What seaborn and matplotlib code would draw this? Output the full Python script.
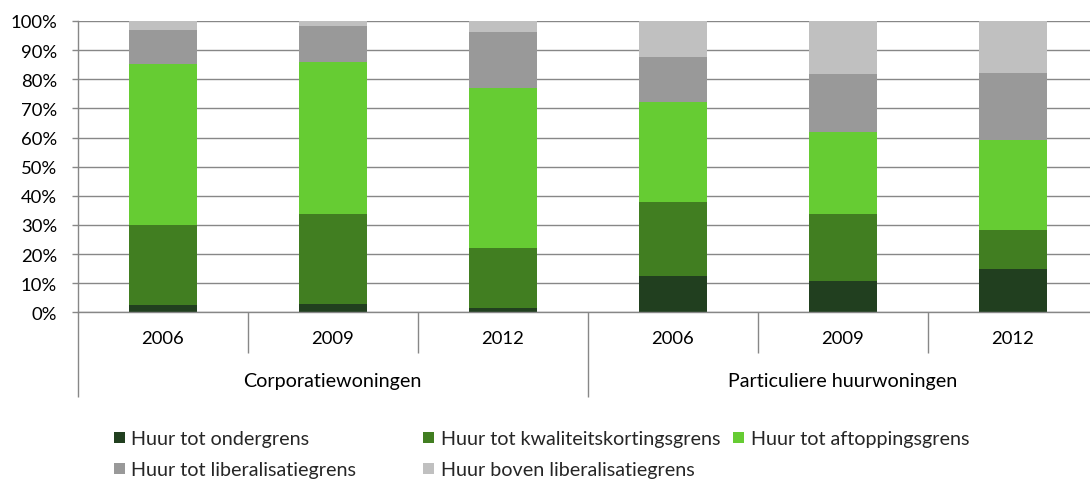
import numpy as np
import pandas as pd
import matplotlib
matplotlib.use("Agg")
import matplotlib.pyplot as plt
from matplotlib.patches import Patch
from matplotlib.ticker import PercentFormatter
import seaborn as sns

# ---------------- data ----------------
groups = ["Corporatiewoningen"] * 3 + ["Particuliere huurwoningen"] * 3
years = ["2006", "2009", "2012", "2006", "2009", "2012"]
series_names = [
    "Huur tot ondergrens",
    "Huur tot kwaliteitskortingsgrens",
    "Huur tot aftoppingsgrens",
    "Huur tot liberalisatiegrens",
    "Huur boven liberalisatiegrens",
]
ondergrens = [2.4, 2.8, 1.5, 12.4, 10.9, 15.0]
kwaliteitskortingsgrens = [27.7, 31.1, 20.7, 25.3, 22.7, 13.2]
aftoppingsgrens = [55.2, 51.9, 54.9, 34.4, 28.2, 31.0]
liberalisatiegrens = [11.6, 12.5, 19.0, 15.4, 19.9, 23.1]
boven_liberalisatiegrens = [3.1, 1.7, 3.9, 12.5, 18.3, 17.7]
colors = ["#213F1F", "#417E21", "#66CC33", "#999999", "#C0C0C0"]

series_values = [ondergrens, kwaliteitskortingsgrens, aftoppingsgrens,
                 liberalisatiegrens, boven_liberalisatiegrens]

cats = [f"{g}|{y}" for g, y in zip(groups, years)]
rows = []
for name, vals in zip(series_names, series_values):
    for c, v in zip(cats, vals):
        rows.append({"cat": c, "series": name, "value": v})
df = pd.DataFrame(rows)
df["cum"] = df.groupby("cat")["value"].cumsum()

# ---------------- style ----------------
sns.set_theme(style="white")
plt.rcParams["font.family"] = ["Lato", "DejaVu Sans"]
FS_TICK = 13.3
FS = 14.2
GRID = "#878787"

W, H = 1090, 481
fig = plt.figure(figsize=(W / 100, H / 100), dpi=100)
ax = fig.add_axes([77.7 / W, (H - 313.3) / H, 1020 / W, 291.3 / H])

# stacked bars: draw cumulative totals from top layer down
for name, col in reversed(list(zip(series_names, colors))):
    sub = df[df["series"] == name]
    sns.barplot(data=sub, x="cat", y="cum", order=cats, color=col,
                width=0.4, errorbar=None, ax=ax, linewidth=0, saturation=1)

ax.set_xlim(-0.5, len(cats) - 0.5)
ax.set_ylim(0, 100)
ax.set_xlabel("")
ax.set_ylabel("")

# y axis
ax.set_yticks(np.arange(0, 101, 10))
ax.yaxis.set_major_formatter(PercentFormatter(decimals=0))
ax.yaxis.grid(True, color=GRID, linewidth=1.0)
ax.set_axisbelow(True)
ax.tick_params(axis="y", direction="out", length=4.3, width=1.0, color=GRID,
               pad=10.5, labelsize=FS_TICK, labelcolor="black", left=True)

for s in ["top", "right"]:
    ax.spines[s].set_visible(False)
for s in ["left", "bottom"]:
    ax.spines[s].set_color(GRID)
    ax.spines[s].set_linewidth(1.0)

# x axis: year labels and separators
xpos = np.arange(len(cats))
ax.set_xticks(xpos)
ax.set_xticklabels(years)
ax.tick_params(axis="x", which="major", length=0, pad=13, labelsize=FS_TICK,
               labelcolor="black")
group_names = list(dict.fromkeys(groups))
bounds_minor = []
bounds_major = [-0.5]
for gname in group_names:
    idx = [i for i, g in enumerate(groups) if g == gname]
    bounds_minor += [i + 0.5 for i in idx[:-1]]
    bounds_major.append(idx[-1] + 0.5)
ax.set_xticks(bounds_minor, minor=True)
ax.tick_params(axis="x", which="minor", direction="out", length=29.5,
               width=1.0, color=GRID, bottom=True)

sec = ax.secondary_xaxis("bottom")
sec.set_xticks(bounds_major)
sec.set_xticklabels([""] * len(bounds_major))
sec.tick_params(axis="x", direction="out", length=61, width=1.0, color=GRID)
sec.spines["bottom"].set_visible(False)

for gname in group_names:
    idx = [i for i, g in enumerate(groups) if g == gname]
    ax.text(np.mean(idx), -68.4 / 291.3, gname, transform=ax.get_xaxis_transform(),
            ha="center", va="center", fontsize=FS, color="black")

# legend (Excel-like layout)
handles = [Patch(facecolor=c, edgecolor="none") for c in colors]
legend_pos = [(114, 440), (423.3, 440), (733.3, 440), (114, 471), (423.3, 471)]
for h, name, (lx, ly) in zip(handles, series_names, legend_pos):
    fig.legend([h], [name], loc="center left", bbox_to_anchor=(lx / W, 1 - ly / H),
               frameon=False, fontsize=FS, borderpad=0, borderaxespad=0,
               handlelength=0.55, handleheight=0.55, handletextpad=0.33)

fig.savefig("out.png", dpi=100)
